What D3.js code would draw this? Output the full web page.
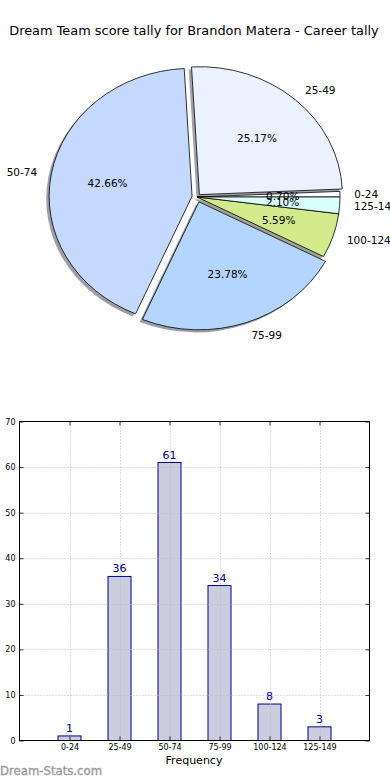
<!DOCTYPE html>
<html>
<head>
<meta charset="utf-8">
<script src="https://cdn.jsdelivr.net/npm/d3@7"></script>
<style>
  html, body { margin: 0; padding: 0; background: #fff; }
  svg { display: block; }
  text { font-family: "DejaVu Sans", sans-serif; }
</style>
</head>
<body>
<script>
// ---- data ----
const title = "Dream Team score tally for Brandon Matera - Career tally";
const categories = ["0-24", "25-49", "50-74", "75-99", "100-124", "125-149"];
const counts = [1, 36, 61, 34, 8, 3];
const yTicks = [0, 10, 20, 30, 40, 50, 60, 70];
const xLabel = "Frequency";
const watermark = "Dream-Stats.com";

// ---- styles ----
const sliceColors = ["#ffffff", "#eaf1ff", "#c5d9ff", "#b4d5ff", "#d1eb8c", "#d9fefe"];
const explode = [0, 0.025, 0.035, 0.04, 0, 0];

const W = 390, H = 780;
const svg = d3.select("body").append("svg").attr("width", W).attr("height", H);

svg.append("text").attr("x", 194).attr("y", 35).attr("text-anchor", "middle")
  .attr("font-size", 12.9).attr("fill", "#000").text(title);

// ---- pie (elliptical, matplotlib-like: start at 3 o'clock, counterclockwise) ----
const cx = 197, cy = 197, rx = 143, ry = 128;
const total = d3.sum(counts);
const pie = d3.pie().sort(null).value(d => d)
  .startAngle(Math.PI / 2).endAngle(Math.PI / 2 - 2 * Math.PI);
const arcs = pie(counts);
const arc = d3.arc().innerRadius(0).outerRadius(1);
const pct = d3.format(".2f");

function offsetOf(d, i) {
  const m = (d.startAngle + d.endAngle) / 2;
  return [Math.sin(m) * explode[i] * rx, -Math.cos(m) * explode[i] * ry];
}
function pointAt(d, i, r) {
  const m = (d.startAngle + d.endAngle) / 2;
  const o = offsetOf(d, i);
  return [cx + o[0] + Math.sin(m) * r * rx, cy + o[1] - Math.cos(m) * r * ry];
}

const pieG = svg.append("g");
// shadows
pieG.selectAll("path.shadow").data(arcs).join("path")
  .attr("class", "shadow")
  .attr("d", arc)
  .attr("transform", (d, i) => {
    const o = offsetOf(d, i);
    return `translate(${cx + o[0] - 0.02 * rx},${cy + o[1] + 0.02 * ry}) scale(${rx},${ry})`;
  })
  .attr("fill", (d, i) => {
    const c = d3.rgb(sliceColors[i]);
    return d3.rgb(c.r * 0.3, c.g * 0.3, c.b * 0.3).toString();
  })
  .attr("fill-opacity", 0.5)
  .attr("stroke", "none");
// wedges
pieG.selectAll("path.wedge").data(arcs).join("path")
  .attr("class", "wedge")
  .attr("d", arc)
  .attr("transform", (d, i) => {
    const o = offsetOf(d, i);
    return `translate(${cx + o[0]},${cy + o[1]}) scale(${rx},${ry})`;
  })
  .attr("fill", (d, i) => sliceColors[i])
  .attr("stroke", "#000")
  .attr("stroke-width", 0.8)
  .attr("vector-effect", "non-scaling-stroke")
  .attr("stroke-linejoin", "round");

// outer labels
pieG.selectAll("text.lab").data(arcs).join("text")
  .attr("class", "lab")
  .each(function (d, i) {
    const p = pointAt(d, i, 1.1);
    const m = (d.startAngle + d.endAngle) / 2;
    d3.select(this).attr("x", p[0]).attr("y", p[1])
      .attr("text-anchor", Math.sin(m) >= 0 ? "start" : "end");
  })
  .attr("dy", "0.4em")
  .attr("font-size", 10.5)
  .attr("fill", "#000")
  .text((d, i) => categories[i]);

// percentage labels
pieG.selectAll("text.pct").data(arcs).join("text")
  .attr("class", "pct")
  .each(function (d, i) {
    const p = pointAt(d, i, 0.6);
    d3.select(this).attr("x", p[0]).attr("y", p[1]);
  })
  .attr("text-anchor", "middle")
  .attr("dy", "0.4em")
  .attr("font-size", 10.5)
  .attr("fill", "#000")
  .text(d => pct(d.data / total * 100) + "%");

// ---- bar chart ----
const bLeft = 19.5, bRight = 369.5, bTop = 421.5, bBottom = 740.5;
const x = d3.scaleLinear().domain([-1, 6]).range([bLeft, bRight]);
const y = d3.scaleLinear().domain([0, 70]).range([bBottom, bTop]);
const barW = 0.46;

const bg = svg.append("g");

bg.selectAll("rect.bar").data(counts).join("rect")
  .attr("class", "bar")
  .attr("x", (d, i) => x(i - barW / 2))
  .attr("width", (d, i) => x(i + barW / 2) - x(i - barW / 2))
  .attr("y", d => y(d))
  .attr("height", d => y(0) - y(d))
  .attr("fill", "#ccccdf")
  .attr("stroke", "#00008b")
  .attr("stroke-width", 1);

// grid (drawn over bars)
bg.selectAll("line.hg").data(yTicks.slice(1, -1)).join("line")
  .attr("class", "hg")
  .attr("x1", bLeft).attr("x2", bRight)
  .attr("y1", d => Math.round(y(d)) + 0.5).attr("y2", d => Math.round(y(d)) + 0.5)
  .attr("stroke", "#bdbdbd").attr("stroke-width", 1).attr("stroke-dasharray", "1,2");
bg.selectAll("line.vg").data(categories).join("line")
  .attr("class", "vg")
  .attr("x1", (d, i) => Math.round(x(i)) + 0.5).attr("x2", (d, i) => Math.round(x(i)) + 0.5)
  .attr("y1", bTop).attr("y2", bBottom)
  .attr("stroke", "#bdbdbd").attr("stroke-width", 1).attr("stroke-dasharray", "1,2");

// value labels
bg.selectAll("text.val").data(counts).join("text")
  .attr("class", "val")
  .attr("x", (d, i) => x(i))
  .attr("y", d => y(d) - 4)
  .attr("text-anchor", "middle")
  .attr("font-size", 11)
  .attr("fill", "#00008b")
  .text(d => d);

// axes
const yAxis = d3.axisLeft(y).tickValues(yTicks).tickSizeInner(-4).tickSizeOuter(0).tickPadding(4);
const gy = bg.append("g").attr("transform", `translate(${bLeft},0)`).call(yAxis);
const gyr = bg.append("g").attr("transform", `translate(${bRight},0)`)
  .call(d3.axisRight(y).tickValues(yTicks).tickSizeInner(-4).tickSizeOuter(0).tickFormat(""));
const xAxis = d3.axisBottom(x).tickValues(d3.range(categories.length))
  .tickFormat(i => categories[i]).tickSizeInner(-4).tickSizeOuter(0).tickPadding(4);
const gx = bg.append("g").attr("transform", `translate(0,${bBottom})`).call(xAxis);
const gxt = bg.append("g").attr("transform", `translate(0,${bTop})`)
  .call(d3.axisTop(x).tickValues(d3.range(categories.length)).tickSizeInner(-4).tickSizeOuter(0).tickFormat(""));
[gy, gyr, gx, gxt].forEach(g => {
  g.select(".domain").remove();
  g.selectAll("line").attr("stroke", "#000").attr("stroke-width", 0.8);
  g.selectAll("text").attr("font-family", "DejaVu Sans, sans-serif").attr("font-size", 8).attr("fill", "#000");
});

bg.append("rect").attr("x", bLeft).attr("y", bTop)
  .attr("width", bRight - bLeft).attr("height", bBottom - bTop)
  .attr("fill", "none").attr("stroke", "#000").attr("stroke-width", 1);

svg.append("text").attr("x", 194).attr("y", 764).attr("text-anchor", "middle")
  .attr("font-size", 11).attr("fill", "#000").text(xLabel);

svg.append("text").attr("x", 0).attr("y", 775)
  .attr("font-size", 11.7).attr("fill", "#9a9a9a")
  .attr("stroke", "#9a9a9a").attr("stroke-width", 0.35).text(watermark);
</script>
</body>
</html>
